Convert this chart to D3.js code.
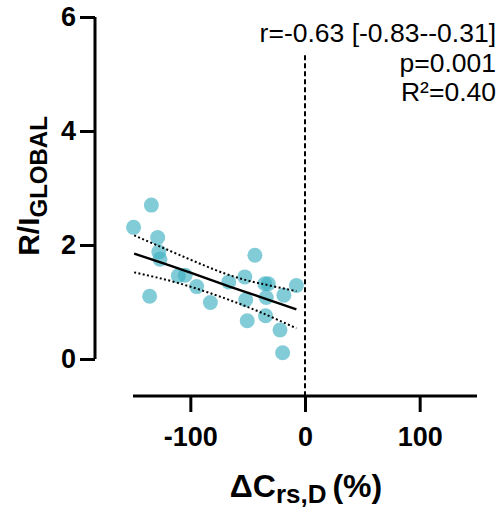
<!DOCTYPE html>
<html>
<head>
<meta charset="utf-8">
<script src="https://cdn.jsdelivr.net/npm/d3@7"></script>
<style>
  body { margin: 0; background: #fff; }
  svg { display: block; font-family: "Liberation Sans", Arial, sans-serif; }
</style>
</head>
<body>
<svg id="chart" width="503" height="508"></svg>
<script>
// change in Crs,D (%) vs R/I global
const deltaC = [-134, -149.5, -128.5, -127.5, -126.5, -135.5, -110.5, -104.5, -94.5, -82.5, -66.5, -52.5, -43.7, -51.7, -50.4, -35, -32, -33.8, -34.4, -18.4, -7.5, -21.8, -19.5]
const ratio = [2.70, 2.31, 2.13, 1.88, 1.75, 1.10, 1.46, 1.47, 1.27, 0.99, 1.35, 1.44, 1.82, 1.04, 0.67, 1.32, 1.32, 1.08, 0.76, 1.12, 1.29, 0.51, 0.11]

// fitted line and 95% band
const fitX = [-149, -110, -70, -40, -7.5]
const fitY = [1.848, 1.585, 1.30, 1.095, 0.872]
const ciUpper = [2.17, 1.83, 1.50, 1.33, 1.19]
const ciLower = [1.52, 1.33, 1.065, 0.83, 0.54]

const xTicks = [-100, 0, 100]
const yTicks = [0, 2, 4, 6]
const statLines = ["r=-0.63 [-0.83--0.31]", "p=0.001", "R²=0.40"]

const svg = d3.select("#chart")

const x = d3.scaleLinear().domain([-150, 150]).range([133, 477])
const y = d3.scaleLinear().domain([0, 6]).range([359, 17])
const fmt = d => String(d)

// y axis (offset left of plot)
const yAxis = svg.append("g")
  .attr("transform", "translate(95,0)")
  .call(d3.axisLeft(y).tickValues(yTicks).tickFormat(fmt).tickSize(15).tickPadding(4))
yAxis.select(".domain").attr("d", "M0," + y(6) + "V" + y(0))
yAxis.selectAll("line, path").attr("stroke", "#000").attr("stroke-width", 3)
yAxis.selectAll("text").attr("font-size", 27).attr("font-weight", "bold").attr("fill", "#000")
  .attr("font-family", "Liberation Sans, Arial, sans-serif")

// x axis (offset below)
const xAxis = svg.append("g")
  .attr("transform", "translate(0,396)")
  .call(d3.axisBottom(x).tickValues(xTicks).tickFormat(fmt).tickSize(16).tickPadding(15))
xAxis.select(".domain").attr("d", "M" + x(-150) + ",0H" + x(150))
xAxis.selectAll("line, path").attr("stroke", "#000").attr("stroke-width", 3)
xAxis.selectAll("text").attr("font-size", 27).attr("font-weight", "bold").attr("fill", "#000")
  .attr("font-family", "Liberation Sans, Arial, sans-serif")

// zero reference
svg.append("line")
  .attr("x1", x(0)).attr("x2", x(0))
  .attr("y1", y(5.33)).attr("y2", 396)
  .attr("stroke", "#000").attr("stroke-width", 2)
  .attr("stroke-dasharray", "5,3")

svg.selectAll(".pt")
  .data(deltaC.map((v, i) => [v, ratio[i]]))
  .enter()
  .append("circle")
  .attr("class", "pt")
  .attr("cx", d => x(d[0]))
  .attr("cy", d => y(d[1]))
  .attr("r", 7.5)
  .attr("fill", "#3fb0c2")
  .attr("fill-opacity", 0.65)

const curve = vals => d3.line()
  .x((d, i) => x(fitX[i]))
  .y(d => y(d))
  .curve(d3.curveNatural)(vals)

svg.append("path").attr("d", curve(fitY))
  .attr("fill", "none").attr("stroke", "#000").attr("stroke-width", 2.4)
;[ciUpper, ciLower].forEach(vals => {
  svg.append("path").attr("d", curve(vals))
    .attr("fill", "none").attr("stroke", "#000").attr("stroke-width", 2)
    .attr("stroke-dasharray", "2,2.4")
})

// stats block
svg.selectAll(".stat")
  .data(statLines)
  .enter()
  .append("text")
  .attr("class", "stat")
  .attr("x", 496)
  .attr("y", (d, i) => 42 + i * 29.5)
  .attr("text-anchor", "end")
  .attr("font-size", 26.5)
  .text(d => d)

// axis titles
const yt = svg.append("text")
  .attr("transform", "translate(39,186) rotate(-90)")
  .attr("text-anchor", "middle")
  .attr("font-weight", "bold")
  .attr("font-size", 30)
yt.append("tspan").text("R/I")
yt.append("tspan").attr("font-size", 24).attr("dy", 8).text("GLOBAL")

const xt = svg.append("text")
  .attr("x", 306).attr("y", 497)
  .attr("text-anchor", "middle")
  .attr("font-weight", "bold")
  .attr("font-size", 32)
xt.append("tspan").text("ΔC")
xt.append("tspan").attr("font-size", 26).attr("dy", 6).text("rs,D")
xt.append("tspan").attr("dy", -6).attr("dx", 6).text("(%)")
</script>
</body>
</html>
